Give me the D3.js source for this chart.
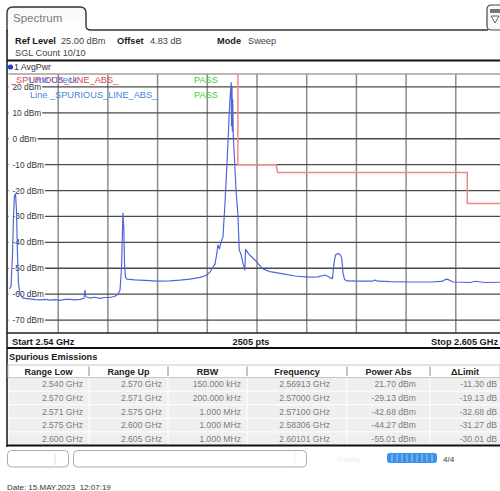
<!DOCTYPE html>
<html>
<head>
<meta charset="utf-8">
<script src="https://cdn.jsdelivr.net/npm/d3@7"></script>
<style>
  html, body { margin: 0; padding: 0; background: #ffffff; }
  svg { display: block; font-family: "Liberation Sans", Arial, sans-serif; }
</style>
</head>
<body>
<svg id="chart" width="500" height="491"></svg>
<script>
// ---------------- DATA ----------------
const yTickValues = [20, 10, 0, -10, -20, -30, -40, -50, -60, -70];
const yTickLabels = ["20 dBm", "10 dBm", "0 dBm", "-10 dBm", "-20 dBm", "-30 dBm", "-40 dBm", "-50 dBm", "-60 dBm", "-70 dBm"];
const freqStartGHz = 2.540, freqStopGHz = 2.605;
const refLevelDbm = 25, bottomLevelDbm = -75;
const xDivisions = 10;

const traceFreqGHz = [
  2.54013, 2.54033, 2.54052, 2.54065, 2.54078, 2.54092, 2.54105, 2.54118, 2.54131, 2.54150,
  2.54190, 2.54281, 2.54350, 2.54412, 2.54480, 2.54543, 2.54610, 2.54673, 2.54740, 2.54804,
  2.54870, 2.54935, 2.54987, 2.55000, 2.55013, 2.55066, 2.55131, 2.55197, 2.55262, 2.55327,
  2.55392, 2.55432, 2.55458, 2.55478, 2.55491, 2.55497, 2.55508, 2.55517, 2.55530, 2.55549,
  2.55654, 2.55785, 2.55942, 2.56112, 2.56243, 2.56374, 2.56504, 2.56583, 2.56635, 2.56674,
  2.56700, 2.56726, 2.56739, 2.56759, 2.56778, 2.56805, 2.56831, 2.56857, 2.56874, 2.56887,
  2.56900, 2.56913, 2.56917, 2.56923, 2.56928, 2.56933, 2.56940, 2.56956, 2.56976, 2.57000,
  2.57018, 2.57040, 2.57066, 2.57092, 2.57100, 2.57157, 2.57246, 2.57328, 2.57420, 2.57590,
  2.57747, 2.57917, 2.58048, 2.58139, 2.58205, 2.58237, 2.58257, 2.58276, 2.58306, 2.58335,
  2.58358, 2.58375, 2.58395, 2.58427, 2.58597, 2.58754, 2.58793, 2.58832, 2.58989, 2.59250,
  2.59512, 2.59669, 2.59708, 2.59741, 2.59774, 2.59813, 2.60036, 2.60101, 2.60232, 2.60428, 2.60500
];
const traceDbm = [
  -58, -57, -45, -30, -22, -21.3, -28, -45, -56, -60,
  -61.5, -61.8, -62.1, -62.2, -62.0, -62.3, -62.1, -62.4, -62.0, -62.0,
  -62.2, -62.0, -61.6, -58.5, -61.0, -61.5, -61.2, -61.6, -61.3, -61.3,
  -60.8, -60.0, -58.5, -50, -35, -28.7, -35, -48, -53.5, -54.2,
  -54.5, -54.7, -55.0, -54.9, -54.6, -54.2, -53.5, -52.8, -51.5, -49.5,
  -48.5, -44, -41, -42.5, -40, -37.8, -25, -10, 0.8, 10,
  17, 21.7, 5, 20, 3, 15, 0.8, -8, -20, -29.13,
  -43, -44.5, -48, -50.7, -42.68, -45, -47.5, -50.3, -51.3, -52.2,
  -53, -53.4, -53.3, -52.6, -53.6, -54, -48, -44.9, -44.27, -44.6,
  -46, -52, -54.3, -54.9, -55, -55, -54.6, -55, -55.2, -55.3,
  -55.3, -55.1, -54.4, -54.2, -54.7, -55.3, -55.5, -55.01, -55.5, -55.4, -55.5
];

const limitFreqGHz = [2.540, 2.570, 2.570, 2.575, 2.5752, 2.600, 2.600, 2.605];
const limitDbm     = [33, 33, -10, -10, -13, -13, -25, -25];

const tableHeaders = ["Range Low", "Range Up", "RBW", "Frequency", "Power Abs", "\u0394Limit"];
const rangeLow   = ["2.540 GHz", "2.570 GHz", "2.571 GHz", "2.575 GHz", "2.600 GHz"];
const rangeUp    = ["2.570 GHz", "2.571 GHz", "2.575 GHz", "2.600 GHz", "2.605 GHz"];
const rbw        = ["150.000 kHz", "200.000 kHz", "1.000 MHz", "1.000 MHz", "1.000 MHz"];
const peakFreq   = ["2.56913 GHz", "2.57000 GHz", "2.57100 GHz", "2.58306 GHz", "2.60101 GHz"];
const powerAbs   = ["21.70 dBm", "-29.13 dBm", "-42.68 dBm", "-44.27 dBm", "-55.01 dBm"];
const deltaLimit = ["-11.30 dB", "-19.13 dB", "-32.68 dB", "-31.27 dB", "-30.01 dB"];

// ---------------- DRAW ----------------
const svg = d3.select("#chart");
const FONT = '"Liberation Sans", Arial, sans-serif';

// Plot geometry
const plotL = 8.5, plotR = 505.5, plotT = 74, plotB = 333;
const x = d3.scaleLinear().domain([freqStartGHz, freqStopGHz]).range([plotL, plotR]);
const y = d3.scaleLinear().domain([bottomLevelDbm, refLevelDbm]).range([plotB, plotT]);

// Tab "Spectrum"
const tab = d3.path();
tab.moveTo(7, 31); tab.lineTo(7, 13); tab.quadraticCurveTo(7, 7, 13, 7);
tab.lineTo(80, 7); tab.quadraticCurveTo(86, 7, 86, 13); tab.lineTo(86, 26);
tab.quadraticCurveTo(86, 30, 91, 30); tab.lineTo(488, 30);
const grad = svg.append("defs").append("linearGradient").attr("id", "tabg").attr("x1", 0).attr("y1", 0).attr("x2", 0).attr("y2", 1);
grad.append("stop").attr("offset", "0%").attr("stop-color", "#f7f7f7");
grad.append("stop").attr("offset", "100%").attr("stop-color", "#ffffff");
svg.append("path").attr("d", "M7,31 L7,13 Q7,7 13,7 L80,7 Q86,7 86,13 L86,31 Z").attr("fill", "url(#tabg)");
svg.append("path").attr("d", tab.toString()).attr("fill", "none").attr("stroke", "#333").attr("stroke-width", 1.4);
svg.append("text").attr("x", 13).attr("y", 22).attr("font-size", 11.5).attr("fill", "#7a7a7a").attr("font-family", FONT).text("Spectrum");

// Right icon
svg.append("rect").attr("x", 487).attr("y", 5).attr("width", 18).attr("height", 25).attr("rx", 4)
  .attr("fill", "#fafafa").attr("stroke", "#444").attr("stroke-width", 1.2);
svg.append("rect").attr("x", 490).attr("y", 9).attr("width", 10).attr("height", 4).attr("fill", "#777");
svg.append("path").attr("d", "M491,16 L499,16 L495,23 Z").attr("fill", "none").attr("stroke", "#666").attr("stroke-width", 1);

// Header texts
function hdr(xp, yp, txt, bold) {
  svg.append("text").attr("x", xp).attr("y", yp).attr("font-size", 9.2).attr("font-family", FONT)
    .attr("font-weight", bold ? "bold" : "normal").attr("fill", bold ? "#1a1a1a" : "#444").text(txt);
}
hdr(15, 44, "Ref Level", true); hdr(61, 44, "25.00 dBm", false);
hdr(117, 44, "Offset", true);   hdr(150, 44, "4.83 dB", false);
hdr(217, 44, "Mode", true);     hdr(248, 44, "Sweep", false);
hdr(15, 56, "SGL Count 10/10", false);

// Outer left frame and panel top
svg.append("line").attr("x1", 7).attr("x2", 7).attr("y1", 30).attr("y2", 447).attr("stroke", "#222").attr("stroke-width", 1.6);
svg.append("line").attr("x1", 7).attr("x2", 500).attr("y1", 60.5).attr("y2", 60.5).attr("stroke", "#111").attr("stroke-width", 2);

// Trace label
svg.append("circle").attr("cx", 10.5).attr("cy", 67).attr("r", 2.6).attr("fill", "#1f3fd0");
svg.append("text").attr("x", 14).attr("y", 70).attr("font-size", 8.8).attr("font-family", FONT).attr("fill", "#333").text("1 AvgPwr");

// Plot area
const plot = svg.append("g");
plot.append("rect").attr("x", plotL).attr("y", plotT).attr("width", plotR - plotL).attr("height", plotB - plotT).attr("fill", "#ffffff");

// Vertical grid
const vTicks = d3.range(1, xDivisions).map(k => freqStartGHz + k * (freqStopGHz - freqStartGHz) / xDivisions);
plot.selectAll("line.vg").data(vTicks).join("line").attr("class", "vg")
  .attr("x1", d => x(d)).attr("x2", d => x(d)).attr("y1", plotT).attr("y2", plotB)
  .attr("stroke", "#8c8c8c").attr("stroke-width", 1.5);
// Top border
plot.append("line").attr("x1", plotL).attr("x2", 500).attr("y1", plotT).attr("y2", plotT).attr("stroke", "#a0a0a0").attr("stroke-width", 1.5);
// Horizontal grid
plot.selectAll("line.hg").data(yTickValues).join("line").attr("class", "hg")
  .attr("x1", plotL).attr("x2", plotR).attr("y1", d => y(d)).attr("y2", d => y(d))
  .attr("stroke", "#4a4a4a").attr("stroke-width", 1.3);

// Y labels with background
const yl = plot.selectAll("g.yl").data(yTickValues).join("g").attr("class", "yl");
yl.append("text").attr("x", 12.5).attr("y", d => y(d) + 3).attr("font-size", 8.3).attr("font-family", FONT)
  .attr("fill", "#333").text((d, i) => yTickLabels[i]);
yl.each(function() {
  const g = d3.select(this), t = g.select("text"), bb = t.node().getBBox();
  g.insert("rect", "text").attr("x", plotL + 0.5).attr("y", bb.y).attr("width", bb.x + bb.width - plotL + 0.5).attr("height", bb.height).attr("fill", "#fff");
});

// Clip
svg.append("clipPath").attr("id", "pclip").append("rect").attr("x", plotL).attr("y", plotT).attr("width", plotR - plotL).attr("height", plotB - plotT);

// Limit line
const limitPts = limitFreqGHz.map((f, i) => [f, limitDbm[i]]);
plot.append("path").attr("clip-path", "url(#pclip)")
  .attr("d", d3.line().x(d => x(d[0])).y(d => y(d[1]))(limitPts))
  .attr("fill", "none").attr("stroke", "#f08a8a").attr("stroke-width", 1.5);

// Legend texts (overlapping as on the instrument screen)
plot.append("text").attr("x", 11).attr("y", 83).attr("font-size", 9.2).attr("font-family", FONT).attr("fill", "#e04848").text("_SPURIOUS_LINE_ABS_");
plot.append("text").attr("x", 29).attr("y", 83).attr("font-size", 9.2).attr("font-family", FONT).attr("fill", "#4a7fe0").text("Limit Check");
plot.append("text").attr("x", 30).attr("y", 98).attr("font-size", 9.2).attr("font-family", FONT).attr("fill", "#4a7fe0").text("Line _SPURIOUS_LINE_ABS_");
plot.append("text").attr("x", 194).attr("y", 83).attr("font-size", 9.2).attr("font-family", FONT).attr("fill", "#3ccf3c").text("PASS");
plot.append("text").attr("x", 194).attr("y", 98).attr("font-size", 9.2).attr("font-family", FONT).attr("fill", "#3ccf3c").text("PASS");

// Trace
const tracePts = traceFreqGHz.map((f, i) => [f, traceDbm[i]]);
plot.append("path").attr("clip-path", "url(#pclip)")
  .attr("d", d3.line().x(d => x(d[0])).y(d => y(d[1]))(tracePts))
  .attr("fill", "none").attr("stroke", "#5366d6").attr("stroke-width", 1.2).attr("stroke-linejoin", "round");

// Bottom bar
svg.append("line").attr("x1", 7).attr("x2", 500).attr("y1", plotB).attr("y2", plotB).attr("stroke", "#222").attr("stroke-width", 1.4);
function bb(xp, anchor, txt) {
  svg.append("text").attr("x", xp).attr("y", 344.5).attr("font-size", 9.2).attr("font-weight", "bold")
    .attr("font-family", FONT).attr("fill", "#1a1a1a").attr("text-anchor", anchor).text(txt);
}
bb(12, "start", "Start " + freqStartGHz.toFixed(2) + " GHz");
bb(251, "middle", "2505 pts");
bb(498, "end", "Stop " + freqStopGHz.toFixed(3) + " GHz");
svg.append("line").attr("x1", 7).attr("x2", 500).attr("y1", 348).attr("y2", 348).attr("stroke", "#111").attr("stroke-width", 2.2);

// Spurious Emissions table
svg.append("text").attr("x", 9).attr("y", 359.5).attr("font-size", 9.2).attr("font-weight", "bold")
  .attr("font-family", FONT).attr("fill", "#1a1a1a").text("Spurious Emissions");
const colEdges = [8, 89, 168, 247, 347, 430, 512];
const colTextEnd = [83, 162, 241, 330, 416, 497];
const headTop = 365, headBot = 377.5, rowH = 13.6;
svg.append("rect").attr("x", 8).attr("y", headTop).attr("width", 492).attr("height", headBot - headTop).attr("fill", "#fff").attr("stroke", "#bbb").attr("stroke-width", 0.8);
colEdges.slice(1, -1).forEach(cx => {
  svg.append("line").attr("x1", cx).attr("x2", cx).attr("y1", headTop + 1.5).attr("y2", headBot - 1.5).attr("stroke", "#888").attr("stroke-width", 1);
});
tableHeaders.forEach((h, i) => {
  svg.append("text").attr("x", (colEdges[i] + Math.min(colEdges[i + 1], 512)) / 2 - (i === 5 ? 6 : 0)).attr("y", 374.5)
    .attr("text-anchor", "middle").attr("font-size", 9).attr("font-weight", "bold").attr("font-family", FONT).attr("fill", "#222").text(h);
});
const rows = rangeLow.map((_, i) => [rangeLow[i], rangeUp[i], rbw[i], peakFreq[i], powerAbs[i], deltaLimit[i]]);
rows.forEach((r, ri) => {
  const top = headBot + ri * rowH;
  r.forEach((cell, ci) => {
    svg.append("rect").attr("x", colEdges[ci] + 0.5).attr("y", top + 0.5).attr("width", colEdges[ci + 1] - colEdges[ci] - 1).attr("height", rowH - 1)
      .attr("fill", "#efefef");
    svg.append("text").attr("x", colTextEnd[ci]).attr("y", top + rowH / 2 + 3).attr("text-anchor", "end")
      .attr("font-size", 8.6).attr("font-family", FONT).attr("fill", "#7c7c7c").text(cell);
  });
});
svg.append("line").attr("x1", 7).attr("x2", 500).attr("y1", 445.5).attr("y2", 445.5).attr("stroke", "#111").attr("stroke-width", 2.2);

// Status bar
svg.append("rect").attr("x", 7.5).attr("y", 450.5).attr("width", 61).attr("height", 16.5).attr("rx", 4).attr("fill", "#fff").attr("stroke", "#aaa");
svg.append("line").attr("x1", 55).attr("x2", 55).attr("y1", 453).attr("y2", 465).attr("stroke", "#ddd");
svg.append("rect").attr("x", 73.5).attr("y", 450.5).attr("width", 233).attr("height", 16.5).attr("rx", 4).attr("fill", "#fff").attr("stroke", "#aaa");
svg.append("line").attr("x1", 295).attr("x2", 295).attr("y1", 453).attr("y2", 465).attr("stroke", "#eee");
svg.append("text").attr("x", 337).attr("y", 462).attr("font-size", 8).attr("font-family", FONT).attr("fill", "#ececec").text("Ready");
svg.append("rect").attr("x", 387).attr("y", 453).attr("width", 50).attr("height", 10).attr("rx", 3).attr("fill", "#3b8fe8");
d3.range(392, 436, 5).forEach(sx => {
  svg.append("line").attr("x1", sx).attr("x2", sx).attr("y1", 454).attr("y2", 462).attr("stroke", "#9cc8f4").attr("stroke-width", 1);
});
svg.append("text").attr("x", 443).attr("y", 461.5).attr("font-size", 8).attr("font-weight", "bold").attr("font-family", FONT).attr("fill", "#777").text("4/4");

// Date
svg.append("text").attr("x", 7).attr("y", 490).attr("font-size", 8).attr("font-family", FONT).attr("fill", "#333")
  .attr("xml:space", "preserve").text("Date: 15.MAY.2023  12:07:19");
</script>
</body>
</html>
